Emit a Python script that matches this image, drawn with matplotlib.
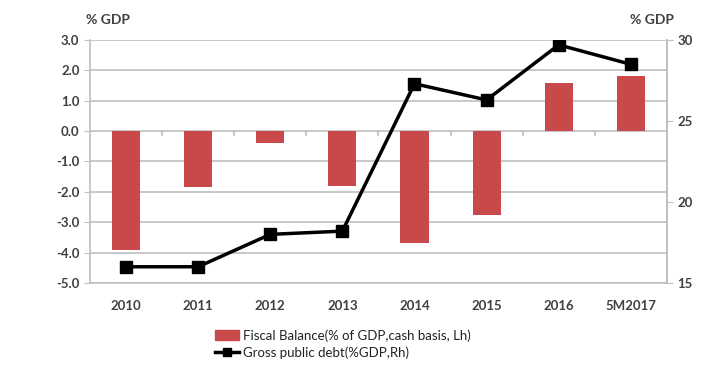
import numpy as np
import matplotlib.pyplot as plt
from matplotlib.lines import Line2D
from matplotlib.patches import Patch

plt.rcParams['font.family'] = ['Lato', 'DejaVu Sans']

years = ['2010', '2011', '2012', '2013', '2014', '2015', '2016', '5M2017']
fiscal_balance = [-3.9, -1.85, -0.4, -1.8, -3.7, -2.75, 1.6, 1.8]
gross_debt = [16.0, 16.0, 18.0, 18.2, 27.3, 26.3, 29.7, 28.5]

bar_color = '#C9484A'
grid_color = '#BFBFBF'
text_color = '#404040'

fig = plt.figure(figsize=(7.14, 3.67), dpi=100)
ax = fig.add_axes([0.126, 0.229, 0.808, 0.662])
x = np.arange(len(years))

ax.bar(x, fiscal_balance, width=0.39, color=bar_color, zorder=3)
ax.set_xlim(-0.5, len(years) - 0.5)
ax.set_ylim(-5, 3)
ax.set_yticks(np.arange(-5, 3.1, 1))
ax.set_yticklabels([f'{v:.1f}' for v in np.arange(-5, 3.1, 1)])
ax.grid(axis='y', color=grid_color, linewidth=1.2, zorder=0)
ax.set_xticks(x)
ax.set_xticklabels(years)
ax.tick_params(axis='x', length=0, pad=12, labelsize=9.5, colors=text_color)
ax.tick_params(axis='y', length=4, color=grid_color, labelsize=9.5, colors=text_color)
for lab in ax.get_xticklabels() + ax.get_yticklabels():
    lab.set_fontweight('bold')

# small category separators on the zero line
for b in np.arange(0.5, len(years) - 1, 1):
    ax.plot([b, b], [0, -0.12], color=grid_color, lw=1.2, zorder=2)

for side in ['top']:
    ax.spines[side].set_visible(False)
for side in ['left', 'right', 'bottom']:
    ax.spines[side].set_color(grid_color)
    ax.spines[side].set_linewidth(1.2)

ax2 = ax.twinx()
ax2.plot(x, gross_debt, color='black', lw=2.5, marker='s', markersize=9, zorder=4)
ax2.set_ylim(15, 30)
ax2.set_yticks([15, 20, 25, 30])
ax2.tick_params(axis='y', length=4, color=grid_color, labelsize=9.5, colors=text_color)
for lab in ax2.get_yticklabels():
    lab.set_fontweight('bold')
for side in ['top', 'left', 'bottom']:
    ax2.spines[side].set_visible(False)
ax2.spines['right'].set_color(grid_color)
ax2.spines['right'].set_linewidth(1.2)

fig.text(0.12, 0.935, '% GDP', fontsize=10, fontweight='bold', color=text_color)
fig.text(0.883, 0.935, '% GDP', fontsize=10, fontweight='bold', color=text_color)

handles = [Patch(color=bar_color),
           Line2D([0], [0], color='black', lw=2.5, marker='s', markersize=6)]
labels = ['Fiscal Balance(% of GDP,cash basis, Lh)', 'Gross public debt(%GDP,Rh)']
fig.legend(handles, labels, loc='lower left', bbox_to_anchor=(0.285, -0.01),
           frameon=False, fontsize=9.5, handlelength=1.8, handletextpad=0.3,
           labelspacing=0.35, labelcolor='#222222')

fig.savefig('out.png', dpi=100)
